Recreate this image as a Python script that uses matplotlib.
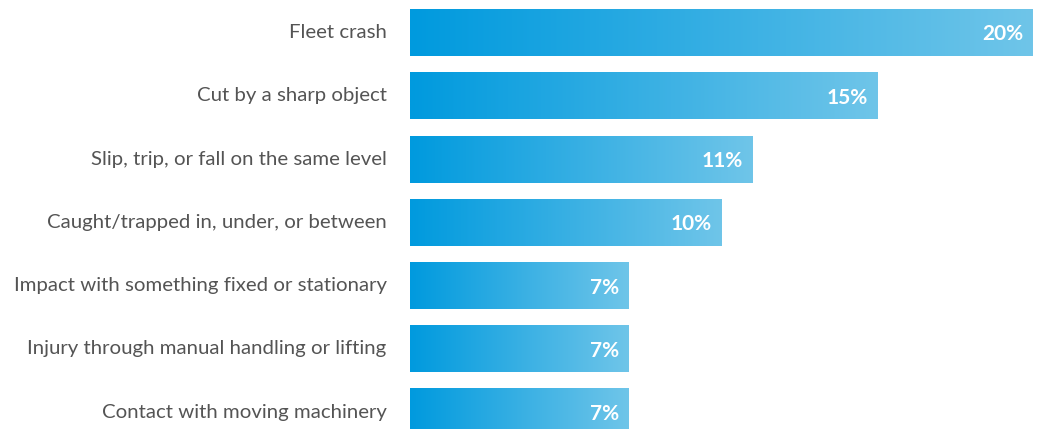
import numpy as np
import matplotlib.pyplot as plt
from matplotlib.colors import LinearSegmentedColormap

categories = [
    "Fleet crash",
    "Cut by a sharp object",
    "Slip, trip, or fall on the same level",
    "Caught/trapped in, under, or between",
    "Impact with something fixed or stationary",
    "Injury through manual handling or lifting",
    "Contact with moving machinery",
]
values = [20, 15, 11, 10, 7, 7, 7]

plt.rcParams['font.family'] = ['Lato', 'DejaVu Sans']

fig = plt.figure(figsize=(10.4, 4.29), dpi=100)
ax = fig.add_axes([410 / 1040, 0, 623 / 1040, 1])

grad = LinearSegmentedColormap.from_list("bar", ["#009ade", "#6fc5e9"])
ramp = np.linspace(0, 1, 256).reshape(1, -1)
h = 0.742

for i, (name, v) in enumerate(zip(categories, values)):
    # each bar carries its own left-to-right gradient
    ax.imshow(ramp, cmap=grad, aspect='auto', interpolation='bilinear',
              extent=(0, v, i + h / 2, i - h / 2), zorder=2)
    ax.text(v - 0.3, i + 0.03, "%d%%" % v, color='white', fontsize=15,
            fontweight='bold', ha='right', va='center', zorder=3)
    ax.text(-0.75, i, name, color='#545454', fontsize=14.7, fontweight='normal',
            ha='right', va='center', clip_on=False)

ax.set_xlim(0, 20)
ax.set_ylim(6.264, -0.513)
ax.axis('off')

fig.savefig("out.png", dpi=100, facecolor='white')
